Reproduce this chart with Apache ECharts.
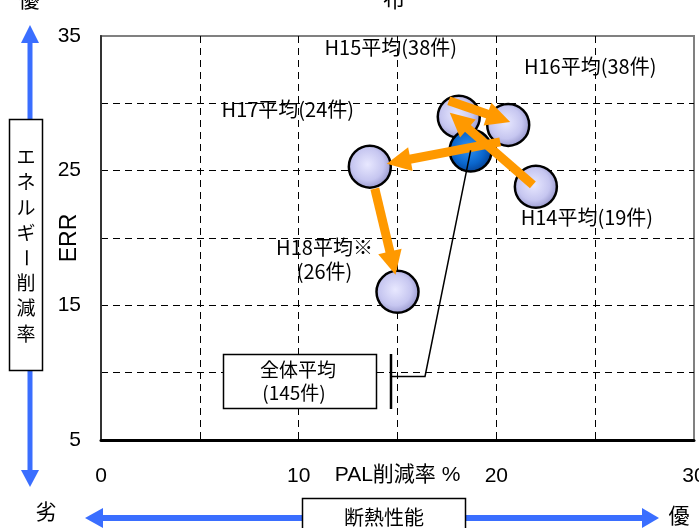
<!DOCTYPE html>
<html>
<head>
<meta charset="utf-8">
<script src="https://cdn.jsdelivr.net/npm/echarts@6/dist/echarts.min.js"></script>
<style>
html, body { margin: 0; padding: 0; background: #fff; }
#c { width: 699px; height: 528px; }
</style>
</head>
<body>
<div id="c"></div>
<script>
// Yearly averages: PAL reduction (%) vs energy reduction ratio (ERR)
const periods = ['H14', 'H15', 'H16', 'H17', 'H18'];
const periodLabels = ['H14平均(19件)', 'H15平均(38件)', 'H16平均(38件)', 'H17平均(24件)', 'H18平均※\n(26件)'];
const palReduction = [22.0, 18.1, 20.6, 13.6, 15.0];
const errValue = [23.8, 29.0, 28.4, 25.3, 16.0];

// Overall average of all buildings
const overallLabel = ['全体平均', '(145件)'];
const overallPal = 18.7;
const overallErr = 26.5;

// Axis labels
const xTickLabels = [0, 10, 20, 30];
const yTickLabels = [5, 15, 25, 35];

// Year-to-year transitions drawn as arrows
const transitions = [['H14', 'H15'], ['H15', 'H16'], ['H16', 'H17'], ['H17', 'H18']];

const LATIN = '"Liberation Sans", Arial, "Noto Sans CJK JP", sans-serif';
const JP = '"Noto Sans CJK JP", sans-serif';
const BLUE = '#3A6EFF';
const ORANGE = '#FF9900';

const lightBall = {
  type: 'radial', x: 0.45, y: 0.45, r: 0.6,
  colorStops: [
    { offset: 0, color: '#E8E8FF' },
    { offset: 0.6, color: '#C6C6F0' },
    { offset: 1, color: '#8C8CC4' }
  ]
};
const darkBall = {
  type: 'radial', x: 0.45, y: 0.45, r: 0.6,
  colorStops: [
    { offset: 0, color: '#2F93F5' },
    { offset: 0.6, color: '#0A66CC' },
    { offset: 1, color: '#063A88' }
  ]
};

// label placement around each yearly ball (pixels)
const labelOffsets = {
  H14: [51, 31], H15: [-68, -69], H16: [82, -58], H17: [-82, -57], H18: [-73, -32]
};
// arrow end nudges in pixels: [startDx, startDy, endDx, endDy]
const arrowNudges = [
  [-3, -2, -9, -4],
  [-10, -16, 2, -3],
  [-8, 17, 17, -3],
  [5, 22, -2, -17]
];

function periodItem(i) {
  return {
    value: [palReduction[i], errValue[i]],
    itemStyle: { color: lightBall },
    label: {
      show: true,
      formatter: periodLabels[i],
      position: 'inside',
      offset: labelOffsets[periods[i]],
      color: '#000',
      fontFamily: JP,
      fontSize: 20,
      lineHeight: 24,
      align: 'center',
      verticalAlign: 'middle'
    }
  };
}

// Draw order: balls that sit behind the overall ball come first
const scatterData = [];
periods.forEach((p, i) => {
  if (p === 'H16') {
    scatterData.push({ value: [overallPal, overallErr], itemStyle: { color: darkBall } });
  }
  scatterData.push(periodItem(i));
});

const arrowData = transitions.map(([a, b]) => {
  const i = periods.indexOf(a), j = periods.indexOf(b);
  return [palReduction[i], errValue[i], palReduction[j], errValue[j]];
});

const chart = echarts.init(document.getElementById('c'), null, { renderer: 'canvas' });

chart.setOption({
  animation: false,
  backgroundColor: '#fff',
  grid: {
    left: 101, top: 36, right: 5, bottom: 88,
    containLabel: false, outerBoundsMode: 'none',
    show: true, borderColor: '#808080', borderWidth: 2, backgroundColor: '#fff'
  },
  xAxis: {
    type: 'value', min: 0, max: 30, interval: 5,
    name: 'PAL削減率 %', nameLocation: 'middle', nameGap: 25, nameMoveOverlap: false,
    nameTextStyle: { fontFamily: LATIN, fontSize: 21, color: '#000' },
    axisLine: { show: true, onZero: false, lineStyle: { color: '#000', width: 3 } },
    axisTick: { show: false },
    axisLabel: { customValues: xTickLabels, fontFamily: LATIN, fontSize: 21, color: '#000', margin: 26, hideOverlap: false },
    splitLine: { show: true, showMinLine: false, showMaxLine: false, lineStyle: { color: '#000', width: 1, type: [7, 5] } }
  },
  yAxis: {
    type: 'value', min: 5, max: 35, interval: 5,
    name: 'ERR', nameLocation: 'middle', nameGap: 20, nameRotate: 90, nameMoveOverlap: false,
    nameTextStyle: { fontFamily: LATIN, fontSize: 23, color: '#000' },
    axisLine: { show: true, onZero: false, lineStyle: { color: '#333', width: 2 } },
    axisTick: { show: false },
    axisLabel: { customValues: yTickLabels, fontFamily: LATIN, fontSize: 21, color: '#000', margin: 20, hideOverlap: false },
    splitLine: { show: true, showMinLine: false, showMaxLine: false, lineStyle: { color: '#000', width: 1, type: [7, 5] } }
  },
  series: [
    {
      type: 'scatter',
      z: 3,
      symbol: 'circle',
      symbolSize: 42,
      itemStyle: { borderColor: '#000', borderWidth: 2.5, opacity: 1 },
      data: scatterData
    },
    {
      type: 'custom',
      z: 5,
      encode: { x: [0, 2], y: [1, 3] },
      data: arrowData,
      renderItem(params, api) {
        const n = arrowNudges[params.dataIndex];
        const p1 = api.coord([api.value(0), api.value(1)]);
        const p2 = api.coord([api.value(2), api.value(3)]);
        const s = [p1[0] + n[0], p1[1] + n[1]];
        const e = [p2[0] + n[2], p2[1] + n[3]];
        const dx = e[0] - s[0], dy = e[1] - s[1];
        const len = Math.hypot(dx, dy);
        const ux = dx / len, uy = dy / len;
        const headLen = 24, headHalf = 12;
        const b = [e[0] - ux * headLen, e[1] - uy * headLen];
        return {
          type: 'group',
          children: [
            { type: 'line', shape: { x1: s[0], y1: s[1], x2: b[0] + ux * 2, y2: b[1] + uy * 2 },
              style: { stroke: ORANGE, lineWidth: 9 } },
            { type: 'polygon',
              shape: { points: [e, [b[0] - uy * headHalf, b[1] + ux * headHalf], [b[0] + uy * headHalf, b[1] - ux * headHalf]] },
              style: { fill: ORANGE } }
          ]
        };
      }
    }
  ]
});

// Callout for the overall average, anchored at the dark ball
const anchor = chart.convertToPixel({ gridIndex: 0 }, [overallPal, overallErr]);

function tx(text, x, y, size, extra) {
  return Object.assign({
    type: 'text', x: x, y: y, z: 20,
    style: { text: text, fill: '#000', font: size + 'px ' + JP, textAlign: 'center', textVerticalAlign: 'middle' }
  }, extra || {});
}

const vertChars = ['エ', 'ネ', 'ル', 'ギ', 'ー', '削', '減', '率'];
const vertText = vertChars.map((ch, k) => tx(ch, 26, 157 + k * 25.2, 19,
  ch === 'ー' ? { rotation: -Math.PI / 2 } : {}));

chart.setOption({
  graphic: [
    // vertical quality arrow
    { type: 'line', z: 10, shape: { x1: 30, y1: 42, x2: 30, y2: 471 }, style: { stroke: BLUE, lineWidth: 5 } },
    { type: 'polygon', z: 10, shape: { points: [[30, 25], [21, 43], [39, 43]] }, style: { fill: BLUE } },
    { type: 'polygon', z: 10, shape: { points: [[30, 487], [21, 470], [39, 470]] }, style: { fill: BLUE } },
    { type: 'rect', z: 11, shape: { x: 9.5, y: 119.5, width: 33, height: 251 }, style: { fill: '#fff', stroke: '#000', lineWidth: 1.5 } },
    ...vertText,
    // horizontal quality arrow
    { type: 'line', z: 10, shape: { x1: 102, y1: 518, x2: 643, y2: 518 }, style: { stroke: BLUE, lineWidth: 6 } },
    { type: 'polygon', z: 10, shape: { points: [[85, 518], [103, 508], [103, 528]] }, style: { fill: BLUE } },
    { type: 'polygon', z: 10, shape: { points: [[659, 518], [642, 508], [642, 528]] }, style: { fill: BLUE } },
    { type: 'rect', z: 11, shape: { x: 302.5, y: 498.5, width: 163, height: 40 }, style: { fill: '#fff', stroke: '#000', lineWidth: 1.5 } },
    tx('断熱性能', 384, 517, 20),
    tx('劣', 46, 511, 21),
    tx('優', 679, 515, 21),
    tx('優', 29, -1, 21),
    tx('布', 394, -1, 22),
    // overall average callout
    { type: 'polyline', z: 8, shape: { points: [anchor, [425, 376.5], [391, 376.5]] }, style: { stroke: '#000', lineWidth: 1.5, fill: null } },
    { type: 'line', z: 8, shape: { x1: 391, y1: 354, x2: 391, y2: 409 }, style: { stroke: '#000', lineWidth: 2.5 } },
    { type: 'rect', z: 11, shape: { x: 223.5, y: 354.5, width: 153, height: 54 }, style: { fill: '#fff', stroke: '#000', lineWidth: 1.5 } },
    tx(overallLabel[0], 298, 370, 19),
    tx(overallLabel[1], 294, 393, 19)
  ]
});
</script>
</body>
</html>
